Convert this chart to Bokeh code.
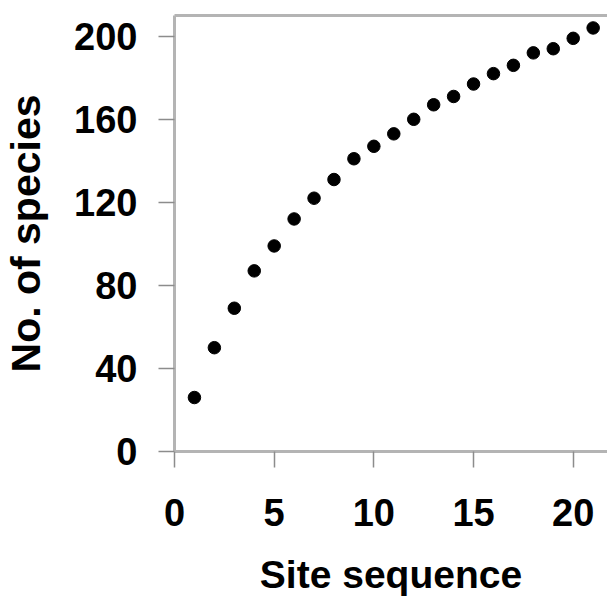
from bokeh.plotting import figure
from bokeh.models import LinearAxis, Range1d, FixedTicker
from bokeh.embed import file_html
from bokeh.resources import INLINE

site = [1, 2, 3, 4, 5, 6, 7, 8, 9, 10, 11, 12, 13, 14, 15, 16, 17, 18, 19, 20, 21]
species = [26, 50, 69, 87, 99, 112, 122, 131, 141, 147, 153, 160, 167, 171, 177, 182, 186, 192, 194, 199, 204]
x_ticks = [0, 5, 10, 15, 20]
y_ticks = [0, 40, 80, 120, 160, 200]

AXIS_GRAY = "#b4b4b4"
TICK_GRAY = "#8c8c8c"
FONT = "Liberation Sans"

p = figure(width=607, height=598, output_backend="svg", toolbar_location=None,
           x_range=Range1d(0, 21.72), y_range=Range1d(0, 210),
           min_border_left=174, min_border_right=0, min_border_top=15, min_border_bottom=143)
p.outline_line_color = None
p.background_fill_color = "white"
p.border_fill_color = "white"
p.xgrid.grid_line_color = None
p.ygrid.grid_line_color = None

p.scatter(site, species, size=12.5, fill_color="black", line_color="black")

for ax, ticks in ((p.xaxis[0], x_ticks), (p.yaxis[0], y_ticks)):
    ax.ticker = FixedTicker(ticks=ticks)
    ax.minor_tick_line_color = None
    ax.axis_line_color = AXIS_GRAY
    ax.axis_line_width = 3
    ax.major_tick_line_color = TICK_GRAY
    ax.major_tick_line_width = 1.5
    ax.major_tick_in = 0
    ax.major_tick_out = 16
    ax.major_label_text_font = FONT
    ax.major_label_text_font_style = "bold"
    ax.major_label_text_font_size = "38px"
    ax.major_label_text_color = "black"
    ax.axis_label_text_font = FONT
    ax.axis_label_text_font_style = "bold"
    ax.axis_label_text_color = "black"

p.xaxis.axis_label = "Site sequence"
p.yaxis.axis_label = "No. of species"
p.xaxis.axis_label_text_font_size = "39px"
p.yaxis.axis_label_text_font_size = "41px"
p.xaxis.major_label_standoff = 31
p.yaxis.major_label_standoff = 21
p.xaxis.axis_label_standoff = 24
p.yaxis.axis_label_standoff = 22

top = LinearAxis(axis_line_color=AXIS_GRAY, axis_line_width=3,
                 ticker=FixedTicker(ticks=[]),
                 major_tick_line_color=None, minor_tick_line_color=None,
                 major_tick_in=0, major_tick_out=0, major_label_standoff=0)
p.add_layout(top, "above")

open("out.html", "w").write(file_html(p, INLINE))
